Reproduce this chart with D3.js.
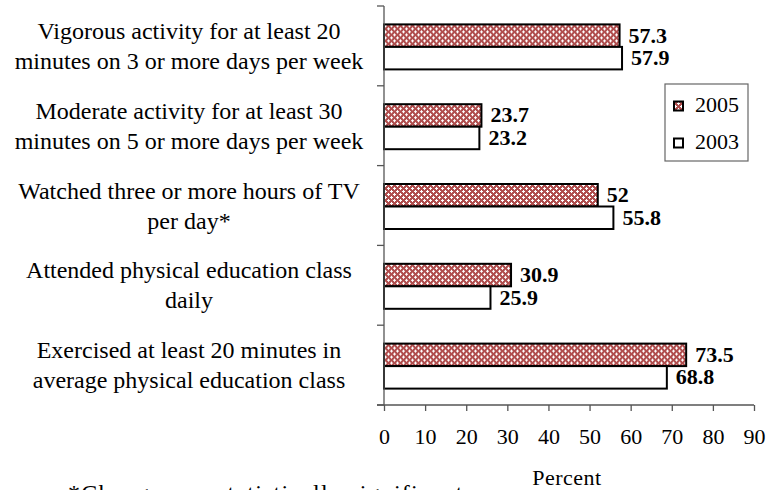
<!DOCTYPE html>
<html>
<head>
<meta charset="utf-8">
<script src="https://cdn.jsdelivr.net/npm/d3@7"></script>
<style>
  html, body { margin: 0; padding: 0; background: #fff; }
  svg { display: block; }
  svg text { font-family: "Liberation Serif", "DejaVu Serif", serif; fill: #000; }
</style>
</head>
<body>
<svg id="chart" width="769" height="490"></svg>
<script>
// Activity indicators (top to bottom), each split onto two lines
const categories = [
  ["Vigorous activity for at least 20", "minutes on 3 or more days per week"],
  ["Moderate activity for at least 30", "minutes on 5 or more days per week"],
  ["Watched three or more hours of TV", "per day*"],
  ["Attended physical education class", "daily"],
  ["Exercised at least 20 minutes in", "average physical education class"]
];
const seriesNames = ["2005", "2003"];
const values2005 = [57.3, 23.7, 52, 30.9, 73.5];
const values2003 = [57.9, 23.2, 55.8, 25.9, 68.8];
const xTicks = [0, 10, 20, 30, 40, 50, 60, 70, 80, 90];
const footnote = "*Change was statistically significant";

const SERIF = "'Liberation Serif', 'DejaVu Serif', serif";
const svg = d3.select("#chart");
const margin = { left: 384, right: 15, top: 6, bottom: 85 };
const W = 769, H = 490;
const plotW = W - margin.left - margin.right;
const plotH = H - margin.top - margin.bottom;

// Cross-hatched red fill for the 2005 series
const defs = svg.append("defs");
const pat = defs.append("pattern")
  .attr("id", "redcheck")
  .attr("patternUnits", "userSpaceOnUse")
  .attr("width", 6).attr("height", 6);
pat.append("rect").attr("width", 6).attr("height", 6).attr("fill", "#b04e4e");
[[1.5, 1.5], [4.5, 4.5]].forEach(([cx, cy]) => {
  pat.append("rect").attr("x", cx - 1.5).attr("y", cy - 0.5).attr("width", 3).attr("height", 1).attr("fill", "#fff");
  pat.append("rect").attr("x", cx - 0.5).attr("y", cy - 1.5).attr("width", 1).attr("height", 3).attr("fill", "#fff");
});

const x = d3.scaleLinear().domain([0, 90]).range([0, plotW]);
const y = d3.scaleBand().domain(d3.range(categories.length)).range([0, plotH]).padding(0);
const inner = d3.scaleBand().domain(seriesNames).range([0, 45]);

const g = svg.append("g").attr("transform", `translate(${margin.left},${margin.top})`);

// Bars and value labels
const groups = g.selectAll(".cat").data(categories.map((c, i) => i)).join("g")
  .attr("class", "cat")
  .attr("transform", i => `translate(0,${y(i) + (y.bandwidth() - 45) / 2 + 1})`);

const rows = [
  { name: "2005", vals: values2005, fill: "url(#redcheck)" },
  { name: "2003", vals: values2003, fill: "#fff" }
];

rows.forEach(r => {
  groups.append("rect")
    .attr("x", 0)
    .attr("y", inner(r.name))
    .attr("width", i => x(r.vals[i]))
    .attr("height", inner.bandwidth())
    .attr("fill", r.fill)
    .attr("stroke", "#000")
    .attr("stroke-width", 2);
  groups.append("text")
    .attr("x", i => x(r.vals[i]) + 9)
    .attr("y", inner(r.name) + inner.bandwidth() / 2 + 7)
    .style("font-family", SERIF)
    .attr("font-size", 22)
    .attr("font-weight", "bold")
    .text(i => r.vals[i]);
});

// Y axis: line with tick marks at band boundaries
const yLines = g.append("g").attr("class", "yaxis");
yLines.append("line")
  .attr("x1", 0).attr("x2", 0).attr("y1", 0).attr("y2", plotH)
  .attr("stroke", "#555").attr("stroke-width", 1.3);
yLines.selectAll(".yt").data(d3.range(categories.length + 1)).join("line")
  .attr("x1", -7).attr("x2", 0)
  .attr("y1", i => i * y.step()).attr("y2", i => i * y.step())
  .attr("stroke", "#555").attr("stroke-width", 1.3);

// Category labels, centred in the left margin
const labelG = svg.append("g");
categories.forEach((lines, i) => {
  const cy = margin.top + y(i) + y.bandwidth() / 2;
  const t = labelG.append("text")
    .attr("text-anchor", "middle")
    .style("font-family", SERIF)
    .attr("font-size", 24);
  lines.forEach((ln, k) => {
    t.append("tspan")
      .attr("x", 189)
      .attr("y", cy - 7 + k * 30)
      .text(ln);
  });
});

// X axis
const xAxis = g.append("g")
  .attr("transform", `translate(0,${plotH})`)
  .call(d3.axisBottom(x).tickValues(xTicks).tickSize(6).tickPadding(17).tickSizeOuter(0));
xAxis.select(".domain").attr("stroke", "#555").attr("stroke-width", 1.3)
  .attr("d", `M-7,0H${x(90)}`);
xAxis.selectAll(".tick line").attr("stroke", "#555").attr("stroke-width", 1.3);
xAxis.selectAll(".tick text")
  .style("font-family", SERIF)
  .attr("font-size", 22)
  .attr("fill", "#000");

// Axis title
svg.append("text")
  .attr("x", 567).attr("y", 485)
  .attr("text-anchor", "middle")
  .style("font-family", SERIF)
  .attr("font-size", 22)
  .attr("letter-spacing", 0.5)
  .text("Percent");

// Footnote along the bottom edge
svg.append("text")
  .attr("x", 68).attr("y", 501)
  .style("font-family", SERIF)
  .attr("font-size", 24)
  .attr("letter-spacing", 1.2)
  .text(footnote);

// Legend
const leg = svg.append("g").attr("transform", "translate(665,84)");
leg.append("rect").attr("width", 83).attr("height", 77)
  .attr("fill", "#fff").attr("stroke", "#666").attr("stroke-width", 1.2);
[{ name: "2005", fill: "url(#redcheck)", cy: 22 }, { name: "2003", fill: "#fff", cy: 59 }].forEach(d => {
  leg.append("rect").attr("x", 9).attr("y", d.cy - 4.5).attr("width", 9).attr("height", 9)
    .attr("fill", d.fill).attr("stroke", "#000").attr("stroke-width", 2);
  leg.append("text").attr("x", 30).attr("y", d.cy + 6)
    .style("font-family", SERIF)
    .attr("font-size", 22).text(d.name);
});
</script>
</body>
</html>
